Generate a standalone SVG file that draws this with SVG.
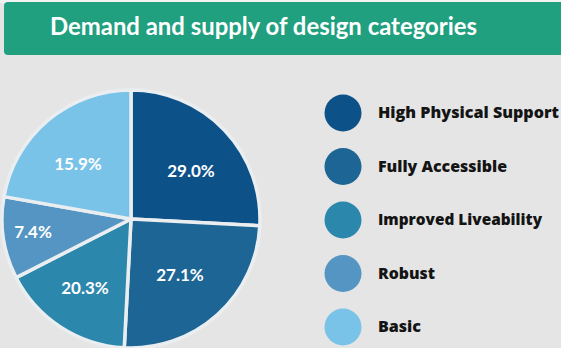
<svg xmlns="http://www.w3.org/2000/svg" width="561" height="348" viewBox="0 0 561 348">
<style>
.pct{font-family:Lato,"Open Sans","Liberation Sans",sans-serif;font-weight:700;font-size:17px;fill:#ffffff;text-anchor:middle}
.leg{font-family:"Open Sans","Liberation Sans",sans-serif;font-weight:800;font-size:15.5px;fill:#141414}
.slice{stroke:#eaeef0;stroke-width:3.5;stroke-linejoin:round}
</style>
<rect x="0" y="0" width="561" height="348" fill="#e5e5e5"/>
<rect x="0" y="0" width="561" height="3" fill="#f2f2f2"/>
<g id="title">
<rect x="4" y="2" width="560" height="53" rx="4" fill="#21a080"/>
<text x="263.5" y="35" text-anchor="middle" textLength="427" lengthAdjust="spacingAndGlyphs" font-family="Lato,'Open Sans','Liberation Sans',sans-serif" font-weight="700" font-size="24" fill="#ffffff">Demand and supply of design categories</text>
</g>
<g id="pie">
<g id="slice-high"><path class="slice" fill="#0d5189" d="M131,219 L131,90 A129,129 0 0 1 259.82,225.75 Z"/><text class="pct" x="191" y="177">29.0%</text></g>
<g id="slice-fully"><path class="slice" fill="#1c6595" d="M131,219 L259.82,225.75 A129,129 0 0 1 124.25,347.82 Z"/><text class="pct" x="180" y="281">27.1%</text></g>
<g id="slice-improved"><path class="slice" fill="#2b87ab" d="M131,219 L124.25,347.82 A129,129 0 0 1 16.06,277.57 Z"/><text class="pct" x="85" y="294">20.3%</text></g>
<g id="slice-robust"><path class="slice" fill="#5495c3" d="M131,219 L16.06,277.57 A129,129 0 0 1 3.96,196.6 Z"/><text class="pct" x="33" y="238">7.4%</text></g>
<g id="slice-basic"><path class="slice" fill="#79c3e9" d="M131,219 L3.96,196.6 A129,129 0 0 1 131,90 Z"/><text class="pct" x="78" y="170">15.9%</text></g>
</g>
<g id="legend">
<g id="leg-high"><circle cx="343" cy="113" r="18.5" fill="#0d5189"/><text class="leg" x="378" y="118" textLength="181" lengthAdjust="spacingAndGlyphs">High Physical Support</text></g>
<g id="leg-fully"><circle cx="343" cy="166.5" r="18.5" fill="#1c6595"/><text class="leg" x="378" y="171.5" textLength="129" lengthAdjust="spacingAndGlyphs">Fully Accessible</text></g>
<g id="leg-improved"><circle cx="343" cy="220" r="18.5" fill="#2b87ab"/><text class="leg" x="378" y="225" textLength="164" lengthAdjust="spacingAndGlyphs">Improved Liveability</text></g>
<g id="leg-robust"><circle cx="343" cy="273.5" r="18.5" fill="#5495c3"/><text class="leg" x="378" y="278.5" textLength="57" lengthAdjust="spacingAndGlyphs">Robust</text></g>
<g id="leg-basic"><circle cx="343" cy="327" r="18.5" fill="#79c3e9"/><text class="leg" x="378" y="332" textLength="43" lengthAdjust="spacingAndGlyphs">Basic</text></g>
</g>
<g id="connectors"/>
</svg>
